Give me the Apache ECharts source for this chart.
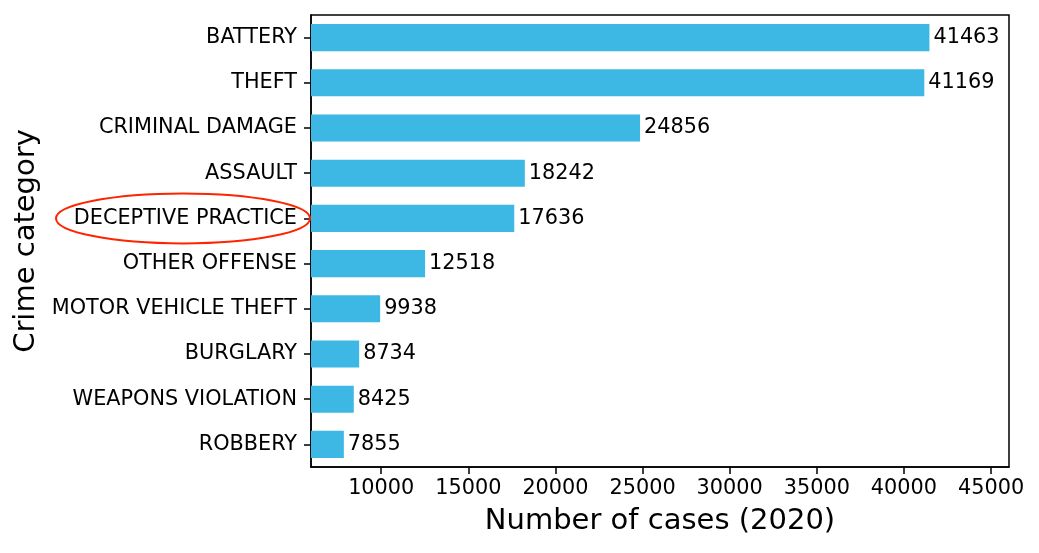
<!DOCTYPE html>
<html>
<head>
<meta charset="utf-8">
<script src="https://cdn.jsdelivr.net/npm/echarts@6/dist/echarts.min.js"></script>
<style>
  html, body { margin: 0; padding: 0; background: #fff; }
  #chart { width: 1039px; height: 553px; }
</style>
</head>
<body>
<div id="chart"></div>
<script>
// categories listed top to bottom
const categories = [
  'BATTERY', 'THEFT', 'CRIMINAL DAMAGE', 'ASSAULT', 'DECEPTIVE PRACTICE',
  'OTHER OFFENSE', 'MOTOR VEHICLE THEFT', 'BURGLARY', 'WEAPONS VIOLATION', 'ROBBERY'
];
const cases = [41463, 41169, 24856, 18242, 17636, 12518, 9938, 8734, 8425, 7855];
const xTicks = [10000, 15000, 20000, 25000, 30000, 35000, 40000, 45000];
const highlighted = 'DECEPTIVE PRACTICE';

const FONT = 'DejaVu Sans';
const gridLeft = 311;

const chart = echarts.init(document.getElementById('chart'));
chart.setOption({
  animation: false,
  textStyle: { fontFamily: FONT, color: '#000' },
  grid: {
    left: gridLeft, right: 30, top: 15, bottom: 86,
    show: true, borderColor: '#000', borderWidth: 1.5, backgroundColor: 'transparent'
  },
  xAxis: {
    type: 'value',
    min: 5970,
    max: 46030,
    name: 'Number of cases (2020)',
    nameLocation: 'middle',
    nameGap: 40,
    nameTextStyle: { fontSize: 29, color: '#000', fontFamily: FONT },
    splitLine: { show: false },
    axisLine: { show: true, lineStyle: { color: '#000', width: 1.5 } },
    axisTick: { show: true, customValues: xTicks, length: 7, lineStyle: { color: '#000', width: 1.5 } },
    axisLabel: {
      customValues: xTicks, fontSize: 20.8, color: '#000', margin: 11, fontFamily: FONT,
      formatter: v => String(v)
    }
  },
  yAxis: {
    type: 'category',
    data: categories,
    inverse: true,
    name: 'Crime category',
    nameLocation: 'middle',
    nameGap: 261,
    nameTextStyle: { fontSize: 29, color: '#000', fontFamily: FONT },
    axisLine: { show: true, lineStyle: { color: '#000', width: 1.5 } },
    axisTick: { show: true, alignWithLabel: true, length: 7, lineStyle: { color: '#000', width: 1.5 } },
    axisLabel: { fontSize: 20.8, color: '#000', margin: 14, fontFamily: FONT }
  },
  series: [{
    type: 'bar',
    data: cases,
    barWidth: '60%',
    itemStyle: { color: '#3db8e4' },
    label: {
      show: true, position: 'right', distance: 4,
      fontSize: 20.8, color: '#000', fontFamily: FONT
    }
  }]
});

// red ellipse around the highlighted tick label
const cy = chart.convertToPixel({ yAxisIndex: 0 }, highlighted);
chart.setOption({
  graphic: [{
    type: 'ellipse',
    shape: { cx: gridLeft - 128, cy: cy, rx: 127, ry: 25 },
    style: { fill: 'none', stroke: '#ff2400', lineWidth: 2 },
    z: 100
  }]
});
</script>
</body>
</html>
